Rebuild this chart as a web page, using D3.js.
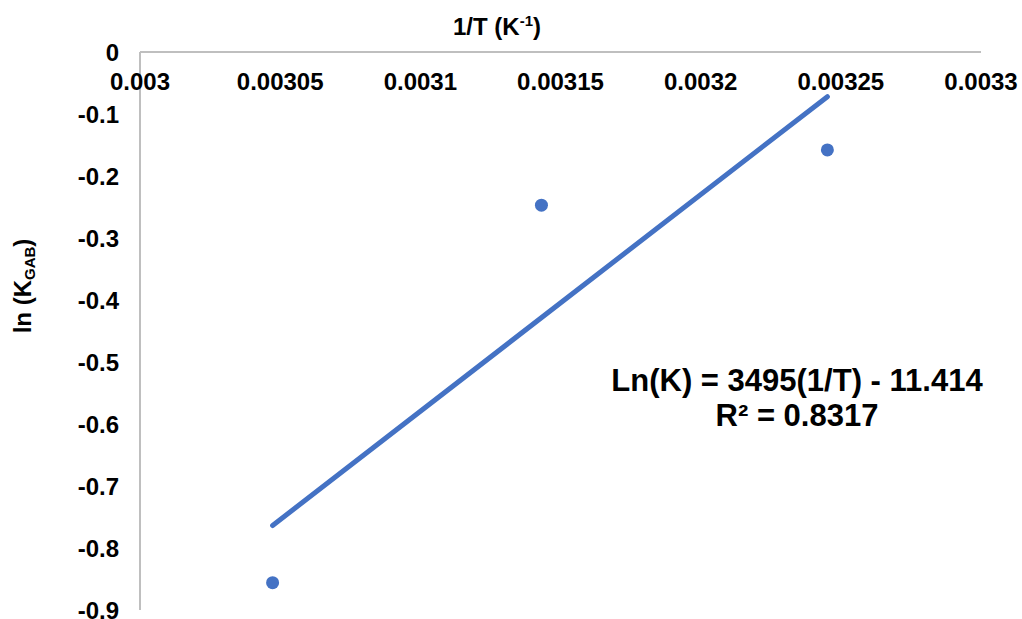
<!DOCTYPE html>
<html>
<head>
<meta charset="utf-8">
<script src="https://cdn.jsdelivr.net/npm/d3@7"></script>
<style>
  body { margin: 0; background: #fff; }
  text { font-family: "Liberation Sans", Arial, sans-serif; font-weight: bold; fill: #000; }
</style>
</head>
<body>
<div id="chart"></div>
<script>
// observed points (1/T, ln K)
const invT = [0.0030473, 0.0031432, 0.0032452]
const lnK = [-0.856, -0.247, -0.158]

// linear trend as printed on the chart
const slope = 3495,
    intercept = -11.414,
    r2 = 0.8317

const xTicks = [0.003, 0.00305, 0.0031, 0.00315, 0.0032, 0.00325, 0.0033]
const yTicks = [0, -0.1, -0.2, -0.3, -0.4, -0.5, -0.6, -0.7, -0.8, -0.9]

const width = 1022,
    height = 619,
    blue = "#4472C4"

const x = d3.scaleLinear().domain([0.003, 0.0033]).range([140, 981])
const y = d3.scaleLinear().domain([0, -0.9]).range([52, 610])

const svg = d3.select("#chart")
    .append("svg")
    .attr("width", width)
    .attr("height", height)

// axes: x sits on y = 0 at the top, labels under the line
svg.append("line")
    .attr("x1", x(0.003)).attr("x2", x(0.0033))
    .attr("y1", y(0)).attr("y2", y(0))
    .attr("stroke", "#bfbfbf").attr("stroke-width", 2)

svg.append("line")
    .attr("x1", x(0.003)).attr("x2", x(0.003))
    .attr("y1", y(0)).attr("y2", y(-0.9))
    .attr("stroke", "#bfbfbf").attr("stroke-width", 2)

svg.append("g")
    .selectAll("text")
    .data(xTicks)
    .join("text")
    .attr("x", d => x(d))
    .attr("y", 90)
    .attr("text-anchor", "middle")
    .style("font-size", "24px")
    .text(d => d)

svg.append("g")
    .selectAll("text")
    .data(yTicks)
    .join("text")
    .attr("x", 119)
    .attr("y", d => y(d) + 8.5)
    .attr("text-anchor", "end")
    .style("font-size", "24px")
    .text(d => d)

// axis titles
const xt = svg.append("text")
    .attr("x", 497)
    .attr("y", 35)
    .attr("text-anchor", "middle")
    .style("font-size", "24px")
xt.append("tspan").text("1/T (K")
xt.append("tspan").attr("dy", -9).style("font-size", "15px").text("-1")
xt.append("tspan").attr("dy", 9).text(")")

const yt = svg.append("text")
    .attr("transform", "translate(31,286) rotate(-90)")
    .attr("text-anchor", "middle")
    .style("font-size", "24px")
yt.append("tspan").text("ln (K")
yt.append("tspan").attr("dy", 4).style("font-size", "15px").text("GAB")
yt.append("tspan").attr("dy", -4).text(")")

// trend line over the data range
const xs = d3.extent(invT)
svg.append("line")
    .attr("x1", x(xs[0])).attr("y1", y(slope * xs[0] + intercept))
    .attr("x2", x(xs[1])).attr("y2", y(slope * xs[1] + intercept))
    .attr("stroke", blue)
    .attr("stroke-width", 5)
    .attr("stroke-linecap", "round")

svg.append("g")
    .selectAll("circle")
    .data(invT)
    .join("circle")
    .attr("cx", d => x(d))
    .attr("cy", (d, i) => y(lnK[i]))
    .attr("r", 6.5)
    .attr("fill", blue)

// equation label
svg.append("text")
    .attr("x", 797)
    .attr("y", 391)
    .attr("text-anchor", "middle")
    .style("font-size", "31px")
    .text(`Ln(K) = ${slope}(1/T) - ${Math.abs(intercept)}`)

svg.append("text")
    .attr("x", 797)
    .attr("y", 426)
    .attr("text-anchor", "middle")
    .style("font-size", "31px")
    .text(`R² = ${r2}`)
</script>
</body>
</html>
